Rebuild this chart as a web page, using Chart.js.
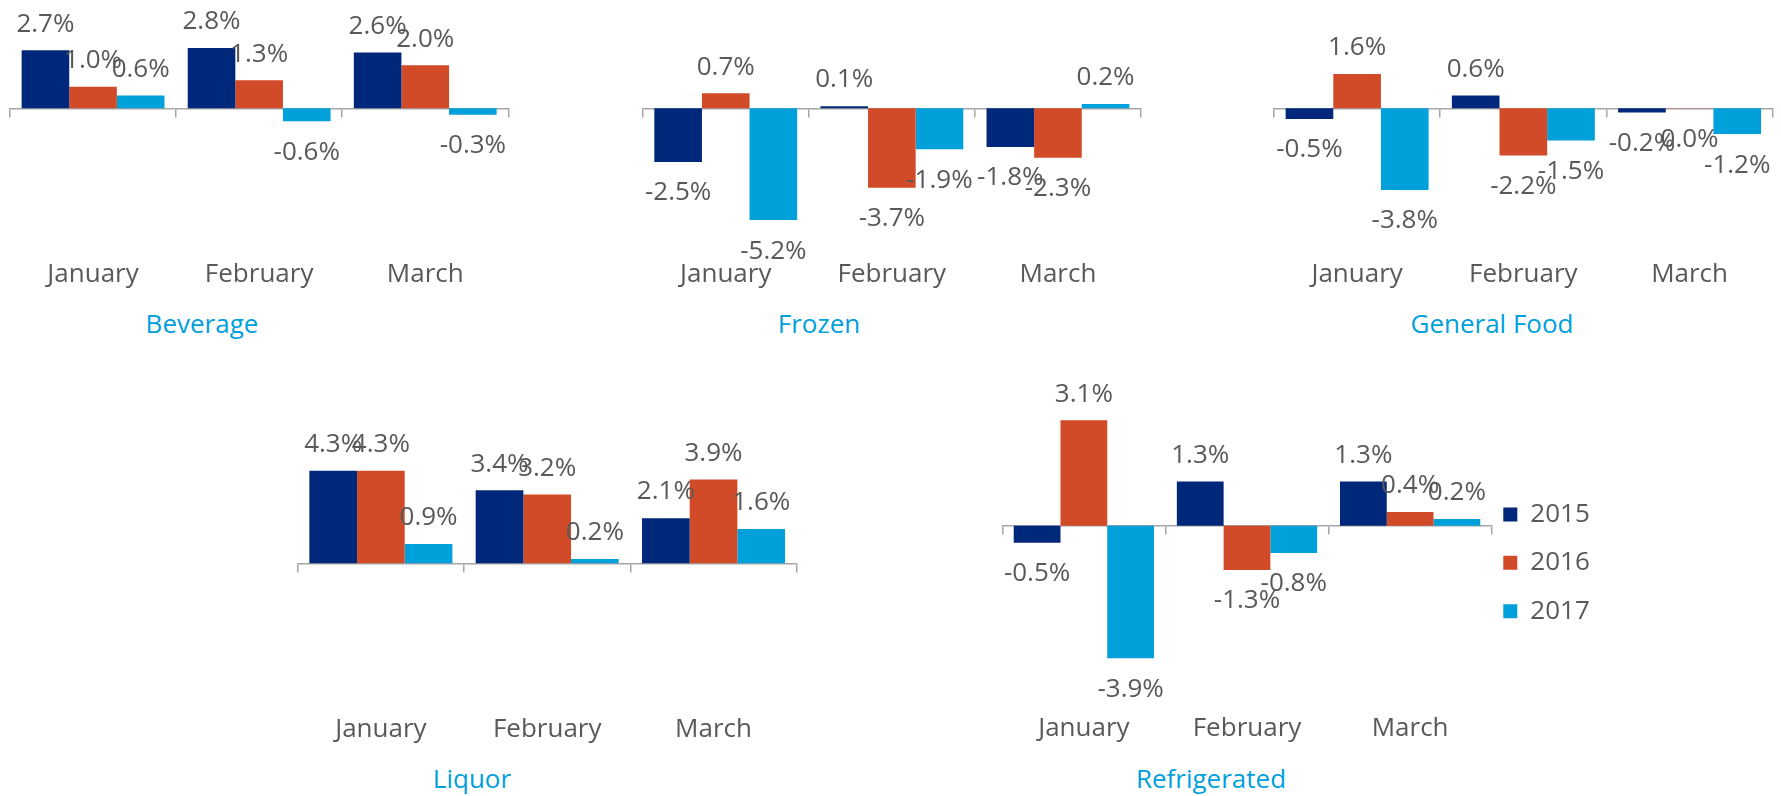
<!DOCTYPE html>
<html>
<head>
<meta charset="utf-8">
<script src="https://cdn.jsdelivr.net/npm/chart.js@4.4.1/dist/chart.umd.min.js"></script>
<style>
  body { margin: 0; background: #fff; }
  #page { position: relative; width: 1781px; height: 796px; overflow: hidden; font-family: "Open Sans", sans-serif; }
  canvas { position: absolute; }
  .panel-title { position: absolute; font-size: 26px; line-height: 26px; color: #00a0dc; white-space: nowrap; transform: translate(-50%, -50%); }
</style>
</head>
<body>
<div id="page">
  <canvas id="beverageChart"></canvas>
  <canvas id="frozenChart"></canvas>
  <canvas id="generalFoodChart"></canvas>
  <canvas id="liquorChart"></canvas>
  <canvas id="refrigeratedChart"></canvas>
  <div class="panel-title" style="left:202px;top:323px">Beverage</div>
  <div class="panel-title" style="left:819px;top:323px">Frozen</div>
  <div class="panel-title" style="left:1492px;top:323px">General Food</div>
  <div class="panel-title" style="left:472px;top:778px">Liquor</div>
  <div class="panel-title" style="left:1211px;top:778px">Refrigerated</div>
</div>
<script>
var months = ['January', 'February', 'March'];
var years = ['2015', '2016', '2017'];

var beverage2015 = [2.7, 2.8, 2.6];
var beverage2016 = [1.0, 1.3, 2.0];
var beverage2017 = [0.6, -0.6, -0.3];

var frozen2015 = [-2.5, 0.1, -1.8];
var frozen2016 = [0.7, -3.7, -2.3];
var frozen2017 = [-5.2, -1.9, 0.2];

var generalFood2015 = [-0.5, 0.6, -0.2];
var generalFood2016 = [1.6, -2.2, -0.01];
var generalFood2017 = [-3.8, -1.5, -1.2];

var liquor2015 = [4.3, 3.4, 2.1];
var liquor2016 = [4.3, 3.2, 3.9];
var liquor2017 = [0.9, 0.2, 1.6];

var refrigerated2015 = [-0.5, 1.3, 1.3];
var refrigerated2016 = [3.1, -1.3, 0.4];
var refrigerated2017 = [-3.9, -0.8, 0.2];

var yearColors = ['#00287a', '#d24b29', '#00a0da'];
var textGray = '#595959';
var axisGray = '#a6a6a6';
var fontSize = 26;

Chart.defaults.font.family = '"Open Sans"';
Chart.defaults.color = textGray;

// where each small chart sits on the page
var panels = [
  {id: 'beverageChart', series: [beverage2015, beverage2016, beverage2017],
   left: 0, top: 0, width: 548, height: 300, min: -7, max: 5,
   padding: {left: 10, right: 39.7, top: 0.8, bottom: 10}},
  {id: 'frozenChart', series: [frozen2015, frozen2016, frozen2017],
   left: 602, top: 0, width: 579, height: 300, min: -7, max: 5,
   padding: {left: 40.7, right: 40, top: 0.8, bottom: 10}},
  {id: 'generalFoodChart', series: [generalFood2015, generalFood2016, generalFood2017],
   left: 1234, top: 0, width: 547, height: 300, min: -7, max: 5,
   padding: {left: 40, right: 8.3, top: 0.8, bottom: 10}},
  {id: 'liquorChart', series: [liquor2015, liquor2016, liquor2017],
   left: 257, top: 400, width: 580, height: 360, min: -7, max: 5,
   padding: {left: 40.7, right: 40.3, top: 55.8, bottom: 15}},
  {id: 'refrigeratedChart', series: [refrigerated2015, refrigerated2016, refrigerated2017],
   left: 962, top: 370, width: 640, height: 383, min: -5.5, max: 3, legend: true,
   padding: {left: 40.3, right: 8.3, top: 53.7, bottom: 9.1}}
];

function pct(v) {
  return (Math.round(v * 10) / 10).toFixed(1) + '%';
}

// value labels just outside the end of each bar
var barLabels = {
  id: 'barLabels',
  afterDatasetsDraw: function(chart) {
    var ctx = chart.ctx;
    ctx.save();
    ctx.font = fontSize + 'px "Open Sans"';
    ctx.fillStyle = textGray;
    ctx.textAlign = 'center';
    ctx.textBaseline = 'alphabetic';
    chart.data.datasets.forEach(function(ds, i) {
      chart.getDatasetMeta(i).data.forEach(function(bar, j) {
        var v = ds.data[j];
        var y = v >= 0 ? bar.y - 18.7 : bar.y + 38.4;
        ctx.fillText(pct(v), bar.x, y);
      });
    });
    ctx.restore();
  }
};

var legendOptions = {
  display: true,
  position: 'right',
  align: 'center',
  fullSize: false,
  maxWidth: 102,
  labels: {
    boxWidth: 14,
    boxHeight: 14,
    padding: 11.6,
    color: textGray,
    font: {size: fontSize, lineHeight: 1.415},
    generateLabels: function(chart) {
      return Chart.defaults.plugins.legend.labels.generateLabels(chart).map(function(item) {
        item.text = [item.text];
        return item;
      });
    }
  }
};

panels.forEach(function(p) {
  var canvas = document.getElementById(p.id);
  canvas.width = p.width;
  canvas.height = p.height;
  canvas.style.left = p.left + 'px';
  canvas.style.top = p.top + 'px';

  new Chart(canvas.getContext('2d'), {
    type: 'bar',
    data: {
      labels: months,
      datasets: p.series.map(function(values, i) {
        return {
          label: years[i],
          data: values,
          backgroundColor: yearColors[i],
          borderWidth: 0,
          categoryPercentage: 0.86,
          barPercentage: 1.0,
          clip: false
        };
      })
    },
    options: {
      responsive: false,
      animation: false,
      devicePixelRatio: 1,
      layout: {padding: p.padding},
      plugins: {
        legend: p.legend ? legendOptions : {display: false},
        tooltip: {enabled: false}
      },
      scales: {
        x: {
          grid: {display: false, drawTicks: false},
          border: {display: false},
          ticks: {padding: 0, color: textGray, font: {size: fontSize}}
        },
        zero: {
          type: 'category',
          axis: 'x',
          position: {y: 0},
          offset: true,
          grid: {offset: true, drawOnChartArea: false, drawTicks: true, tickLength: 8, color: axisGray, lineWidth: 1.5},
          border: {display: true, color: axisGray, width: 1.5},
          ticks: {display: false}
        },
        y: {display: false, min: p.min, max: p.max}
      }
    },
    plugins: [barLabels]
  });
});
</script>
</body>
</html>
